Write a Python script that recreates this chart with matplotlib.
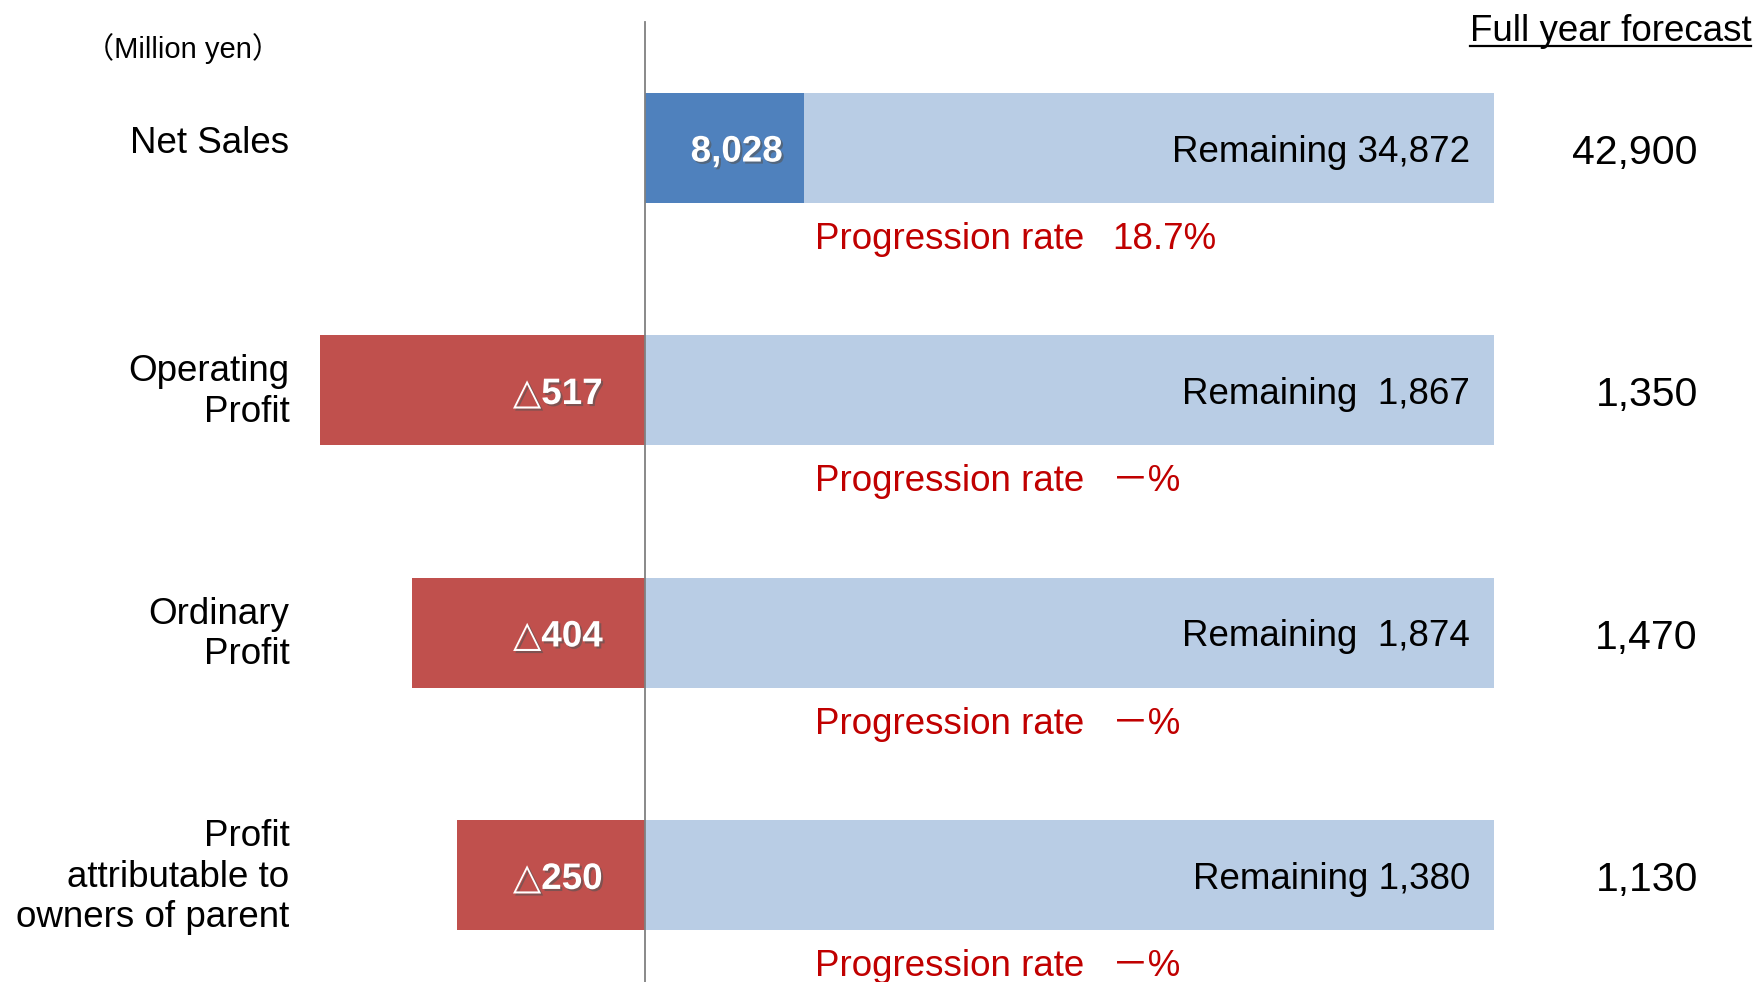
import matplotlib
matplotlib.use('Agg')
import matplotlib.pyplot as plt
import matplotlib.patheffects as pe

# chart values (million yen)
categories = ['Net Sales', 'Operating\nProfit', 'Ordinary\nProfit', 'Profit\nattributable to\nowners of parent']
actual = [8028, -517, -404, -250]
remaining = [34872, 1867, 1874, 1380]
forecast = [42900, 1350, 1470, 1130]
progress = ['18.7%', '－%', '－%', '－%']
# the losses are drawn on their own (non proportional) scale, share of forecast bar
loss_share = [0.0, 0.383, 0.274, 0.221]
rem_sep = [' ', '  ', '  ', ' ']

dark_blue = '#4F81BD'
light_blue = '#B9CDE5'
red_bar = '#C0504D'
red_text = '#C00000'
fonts = ['Liberation Sans', 'DejaVu Sans', 'Noto Sans CJK JP']
plt.rcParams['font.family'] = fonts

fig = plt.figure(figsize=(17.56, 9.82), dpi=100)
ax = fig.add_axes([0, 0, 1, 1])
ax.set_xlim(-0.7597, 1.3086)
ax.set_ylim(3.44, -0.61)
ax.axis('off')

h = 0.454
fs = 26.5
dt = 0.017  # text sits a bit lower than bbox centre
shadow = [pe.withSimplePatchShadow(offset=(1.5, -1.5), shadow_rgbFace='#555555', alpha=0.6)]
for i, cat in enumerate(categories):
    if actual[i] > 0:
        share = actual[i] / forecast[i]
        ax.barh(i, share, height=h, color=dark_blue, edgecolor='none')
        ax.barh(i, 1 - share, left=share, height=h, color=light_blue, edgecolor='none')
        ax.text(share - 0.025, i + dt, f'{actual[i]:,}', ha='right', va='center', color='white',
                fontsize=fs, fontweight='bold', path_effects=shadow)
    else:
        ax.barh(i, -loss_share[i], height=h, color=red_bar, edgecolor='none')
        ax.barh(i, 1, height=h, color=light_blue, edgecolor='none')
        ax.text(-0.05, i + dt, f'△{-actual[i]}', ha='right', va='center', color='white',
                fontsize=fs, fontweight='bold', path_effects=shadow)

    ax.text(0.972, i + dt, f'Remaining{rem_sep[i]}{remaining[i]:,}', ha='right', va='center', fontsize=fs)
    ax.text(1.240, i + 0.02, f'{forecast[i]:,}', ha='right', va='center', fontsize=29.5)
    ax.text(0.200, i + 0.36 + dt, 'Progression rate', ha='left', va='center', fontsize=fs, color=red_text)
    ax.text(0.550, i + 0.36 + dt, progress[i], ha='left', va='center', fontsize=fs, color=red_text)
    dy = -0.037 if i == 0 else -0.01
    ax.text(-0.419, i + dy + dt, cat, ha='right', va='center', fontsize=fs, linespacing=1.2)

# vertical baseline
ax.plot([0, 0], [-0.52, 3.44], color='#808080', lw=1.3, zorder=3)

ax.text(-0.66, -0.41, '（Million yen）', ha='left', va='center', fontsize=21)
title = ax.text(1.303, -0.48, 'Full year forecast', ha='right', va='center', fontsize=26.5)

# underline the forecast heading
fig.canvas.draw()
bb = title.get_window_extent().transformed(ax.transData.inverted())
ax.plot([bb.x0, bb.x1], [-0.42, -0.42], color='black', lw=1.6)

fig.savefig('out.png', dpi=100)
